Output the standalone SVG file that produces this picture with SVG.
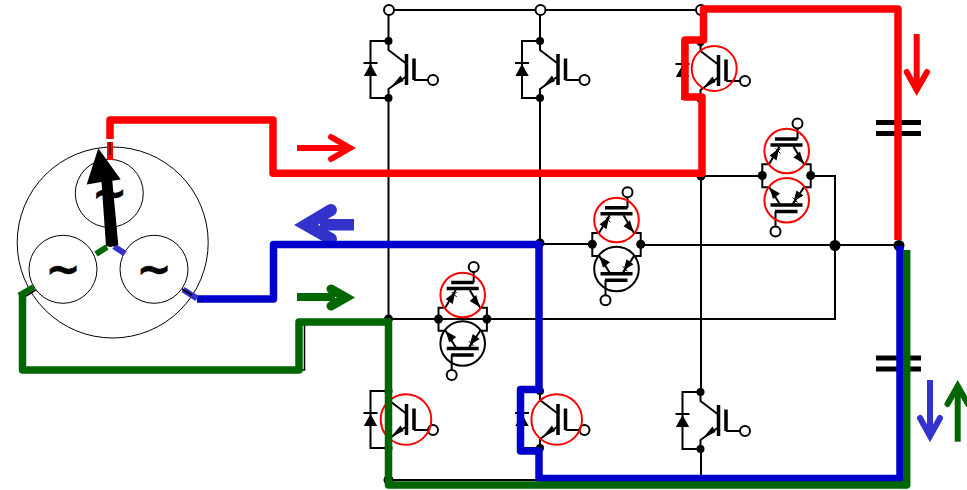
<svg xmlns="http://www.w3.org/2000/svg" xmlns:xlink="http://www.w3.org/1999/xlink" width="967" height="490" viewBox="0 0 967 490">
<style>
.k{fill:none;stroke:#000;stroke-width:2}
.b{fill:none;stroke:#000;stroke-width:3.5}
.t{fill:#fff;stroke:#000;stroke-width:2}
.d{fill:#000;stroke:none}
.thin{fill:none;stroke:#000;stroke-width:1}
.rc{fill:none;stroke:#f00;stroke-width:2}
.kc{fill:none;stroke:#000;stroke-width:2}
.w{fill:none;stroke-width:7.5;stroke-linejoin:round}
.tl{font-family:"DejaVu Sans",sans-serif;font-weight:bold;font-size:42px;text-anchor:middle;fill:#000;stroke:#000;stroke-width:.6}
</style>
<defs>
<g id="igbt">
<path class="k" d="M0,0H-18V57H0M0,0V9L17,22M17,36L0,48V57"/>
<path class="b" d="M18,13V44M25.500,17.500V39"/>
<path class="k" d="M25.500,39H40"/>
<path class="d" d="M-25,21H-11V23H-25Z"/>
<path class="d" d="M-24.700,35L-18,23L-11.300,35Z"/>
<path class="d" d="M2.500,46L12,34.500L15,40Z"/>
<circle class="d" cx="0" cy="0" r="4"/>
<circle class="d" cx="0" cy="57" r="4"/>
<circle class="t" cx="44.500" cy="39" r="5"/>
</g>
<g id="pair">
<path class="k" d="M-24.200,0V-11.200H-17.500L-7,-29M7,-29L17.500,-11.200H24.200V11.800H17.500L6.200,29M-6.500,29L-17.200,11.800H-24.200V0"/>
<path class="b" d="M-16,-30.500H16M-11.500,-36.500H11M-16,29.500H16M-11.500,36H11"/>
<path class="k" d="M11,-36.500V-47M-11,36V51"/>
<path class="d" d="M-7.500,-27L-10,-15L-17,-20Z"/>
<path class="d" d="M17,-12L7,-18L13.500,-24Z"/>
<path class="d" d="M-17,12L-6.500,18L-13.500,23.500Z"/>
<path class="d" d="M7,26L10,15L17,20Z"/>
<path class="thin" d="M-11,-27L-6,-22M11,22L6,27M-6,-27L-11,-22M6,22L11,27"/>
<circle class="d" cx="-24.200" cy="0" r="4.500"/>
<circle class="d" cx="24.200" cy="0" r="4.500"/>
<circle class="t" cx="11" cy="-52" r="5"/>
<circle class="t" cx="-11" cy="56" r="5"/>
</g>
</defs>

<g id="busbars">
<path class="k" d="M389,10H701M388.500,10V41M388.500,98V391M388.500,448V480M540,10V41M540,98V391M540,448V480M701,10V47M701,98V391M701,448V480M388,480H905"/>
<path class="k" d="M701,176H762M810,176H835V319H388M540,244H592M641,245H899"/>
<circle class="d" cx="388.500" cy="319" r="4.500"/>
<circle class="d" cx="540" cy="243" r="4.500"/>
<circle class="d" cx="701" cy="176" r="4.500"/>
<circle class="d" cx="835" cy="245.500" r="5.500"/>
<circle class="d" cx="899" cy="245.500" r="5.500"/>
<circle class="d" cx="388.500" cy="480" r="5"/>
<circle class="t" cx="389" cy="10" r="5"/>
<circle class="t" cx="540.500" cy="10" r="5"/>
<circle class="t" cx="701" cy="10" r="5"/>
</g>

<g id="t1"><use href="#igbt" xlink:href="#igbt" x="388.500" y="41"/></g>
<g id="t2"><use href="#igbt" xlink:href="#igbt" x="540" y="41"/></g>
<g id="t3"><use href="#igbt" xlink:href="#igbt" x="700.500" y="42"/><circle class="rc" cx="714.200" cy="68.500" r="22.500"/></g>
<g id="t4"><use href="#igbt" xlink:href="#igbt" x="388.500" y="391"/><circle class="rc" cx="406" cy="419.500" r="25.300"/></g>
<g id="t5"><use href="#igbt" xlink:href="#igbt" x="540" y="391"/><circle class="rc" cx="556.700" cy="419.500" r="25.300"/></g>
<g id="t6"><use href="#igbt" xlink:href="#igbt" x="700.500" y="392"/></g>

<g id="p3"><use href="#pair" xlink:href="#pair" x="786.500" y="175.500"/><circle class="rc" cx="786.700" cy="151" r="22.300"/><circle class="rc" cx="786.700" cy="200.300" r="22.300"/></g>
<g id="p2"><use href="#pair" xlink:href="#pair" x="616.500" y="244.300"/><circle class="rc" cx="616.500" cy="220" r="22.300"/><circle class="kc" cx="616.500" cy="269" r="22.300"/></g>
<g id="p1"><use href="#pair" xlink:href="#pair" x="462.700" y="319"/><circle class="rc" cx="462.700" cy="295" r="22.300"/><circle class="kc" cx="462.700" cy="343.500" r="22.300"/></g>

<g id="cap1"><path class="d" d="M876,120H921V125H876ZM876,131H921V136H876Z"/></g>
<g id="cap2"><path class="d" d="M876,355.500H921V360.500H876ZM876,366.500H921V371.500H876Z"/></g>

<g id="motor">
<circle class="thin" cx="112.700" cy="242.500" r="95.500"/>
<circle class="thin" cx="109.300" cy="193.300" r="34"/>
<circle class="thin" cx="63" cy="269.300" r="34"/>
<circle class="thin" cx="154" cy="269.300" r="34"/>
<text class="tl" x="63" y="284">~</text>
<text class="tl" x="154" y="284">~</text>
<text class="tl" x="109.500" y="208">~</text>
</g>

<g id="connectors">
<path d="M297,148H346" fill="none" stroke="#f00" stroke-width="6"/>
<path d="M331,137L350,148L331,159" fill="none" stroke="#f00" stroke-width="6" stroke-linecap="round" stroke-miterlimit="10"/>
<path d="M354,224.800H320" fill="none" stroke="#33c" stroke-width="11.500"/>
<path d="M331,210L306,224.800L331,239" fill="none" stroke="#33c" stroke-width="12" stroke-linecap="round" stroke-miterlimit="10"/>
<path d="M297,297H335" fill="none" stroke="#060" stroke-width="8"/>
<path d="M331,289L346,297.500L331,306" fill="none" stroke="#060" stroke-width="9" stroke-linecap="round" stroke-miterlimit="10"/>
<path d="M916.700,34V90" fill="none" stroke="#f00" stroke-width="6"/>
<path d="M906.700,72L916.700,90L927,72" fill="none" stroke="#f00" stroke-width="6" stroke-linecap="round" stroke-miterlimit="10"/>
<path d="M930,380V436" fill="none" stroke="#33c" stroke-width="6"/>
<path d="M920,418L930,436L940,418" fill="none" stroke="#33c" stroke-width="6" stroke-linecap="round" stroke-miterlimit="10"/>
<path d="M957.700,441.700V386" fill="none" stroke="#060" stroke-width="6"/>
<path d="M947.500,404L957.700,386L968,404" fill="none" stroke="#060" stroke-width="6" stroke-linecap="round" stroke-miterlimit="10"/>

<path class="thin" style="stroke-width:1.500" d="M304.500,322V370H299"/>
<path class="w" stroke="#00c" d="M197,299H273.500V244.500H539V389.500H520.500V451H539V478.500H900V246"/>
<path class="w" stroke="#060" d="M22.500,295V370H299V322H388.500V485H906.700V250"/>
<path class="w" stroke="#f00" d="M110,139V120H273V173.300H702V97H685V40H703.500V9H898V240"/>

<path d="M110,142V160" fill="none" stroke="#f00" stroke-width="6"/>
<path d="M33.500,287L19,295.500" fill="none" stroke="#060" stroke-width="6"/>
<path d="M183,289.500L197,298.500" fill="none" stroke="#33c" stroke-width="6"/>
<path d="M96,254L107,247" fill="none" stroke="#060" stroke-width="6"/>
<path d="M114,246.500L125,253.500" fill="none" stroke="#33c" stroke-width="6"/>
<path class="k" style="stroke-width:1.500" d="M109.800,142V155M35.700,290L26,296M182,289L192,295"/>
<path class="d" d="M98.300,148.300L120.700,179.500L112.300,180.700L118.300,245L111,247L106,246L101.500,182L86.700,184.500Z"/>
</g>
</svg>
